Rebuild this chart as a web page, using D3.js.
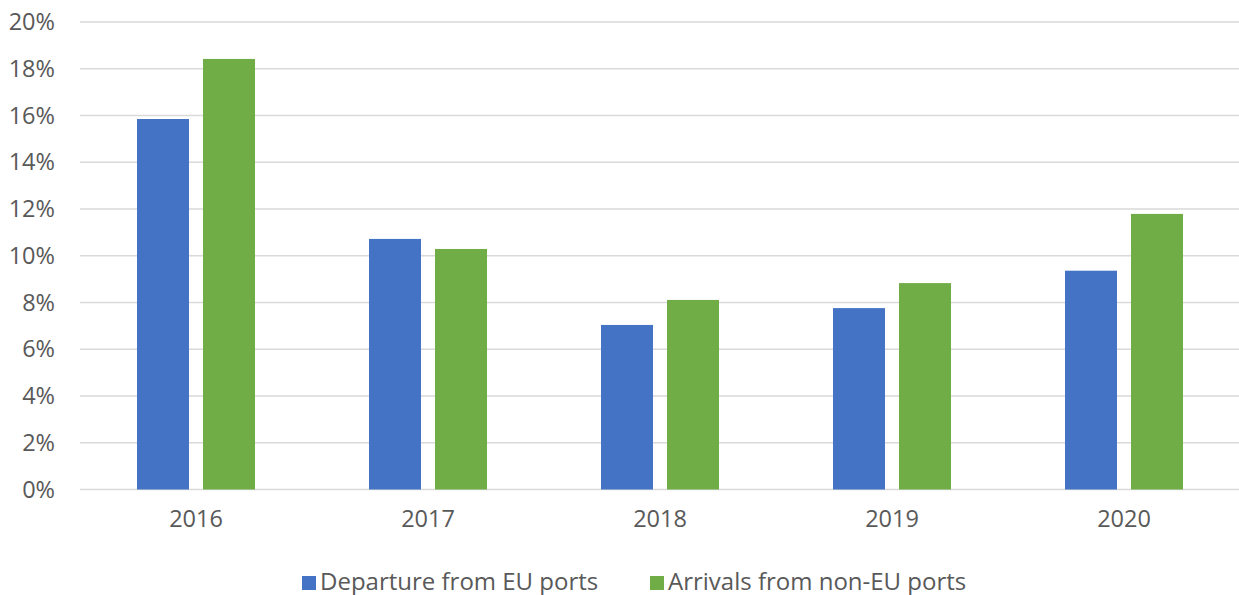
<!DOCTYPE html>
<html><head><meta charset="utf-8">
<script src="https://cdn.jsdelivr.net/npm/d3@7"></script>
<style>body{margin:0;background:#fff;} text{font-family:"Open Sans", sans-serif;}</style>
</head><body>
<svg id="c" width="1239" height="595"></svg>
<script>
const categories = ["2016","2017","2018","2019","2020"];
const seriesNames = ["Departure from EU ports","Arrivals from non-EU ports"];
const departure = [15.85, 10.72, 7.04, 7.76, 9.36];
const arrivals = [18.42, 10.29, 8.11, 8.83, 11.79];
const yTicks = [0,2,4,6,8,10,12,14,16,18,20];
const colors = ["#4472C4","#70AD47"];

const svg = d3.select("#c");
const mLeft = 80, mRight = 1240, mTop = 22, mBottom = 489.5;
const x = d3.scaleBand().domain(categories).range([mLeft, mRight]).paddingInner(0).paddingOuter(0);
const y = d3.scaleLinear().domain([0,20]).range([mBottom, mTop]);
const x1 = d3.scaleBand().domain([0,1]).range([0, x.bandwidth()]).paddingInner(14/66).paddingOuter(57/66);

// gridlines
svg.append("g").selectAll("line").data(yTicks).join("line")
  .attr("x1", mLeft).attr("x2", mRight)
  .attr("y1", d=>y(d)).attr("y2", d=>y(d))
  .attr("stroke","#d9d9d9").attr("stroke-width",1.5);

// y labels
const yAxis = d3.axisLeft(y).tickValues(yTicks).tickFormat(d=>d+"%").tickSize(0).tickPadding(0);
const ya = svg.append("g").attr("transform",`translate(55,0)`).call(yAxis);
ya.select(".domain").remove();
ya.selectAll("text").attr("fill","#595959").style("font-size","23.5px").style("font-family","'Open Sans', sans-serif");

// x labels
const xAxis = d3.axisBottom(x).tickSize(0).tickPadding(0);
const xa = svg.append("g").attr("transform",`translate(0,${mBottom+21})`).call(xAxis);
xa.select(".domain").remove();
xa.selectAll("text").attr("fill","#595959").style("font-size","23.5px").style("font-family","'Open Sans', sans-serif");

// bars
const data = categories.map((c,i)=>({c, vals:[departure[i], arrivals[i]]}));
const g = svg.append("g").selectAll("g").data(data).join("g")
  .attr("transform", d=>`translate(${x(d.c)},0)`);
g.selectAll("rect").data(d=>d.vals.map((v,k)=>({v,k}))).join("rect")
  .attr("x", d=>x1(d.k)).attr("width", x1.bandwidth())
  .attr("y", d=>y(d.v)).attr("height", d=>y(0)-y(d.v))
  .attr("fill", d=>colors[d.k]);

// legend
const legX = [302, 650];
const leg = svg.append("g").selectAll("g").data(seriesNames).join("g")
  .attr("transform",(d,i)=>`translate(${legX[i]},575)`);
leg.append("rect").attr("width",14).attr("height",14).attr("y",1).attr("fill",(d,i)=>colors[i]);
leg.append("text").attr("x",18).attr("y",14.5).text(d=>d)
  .attr("fill","#595959").style("font-size","24px");
</script>
</body></html>
